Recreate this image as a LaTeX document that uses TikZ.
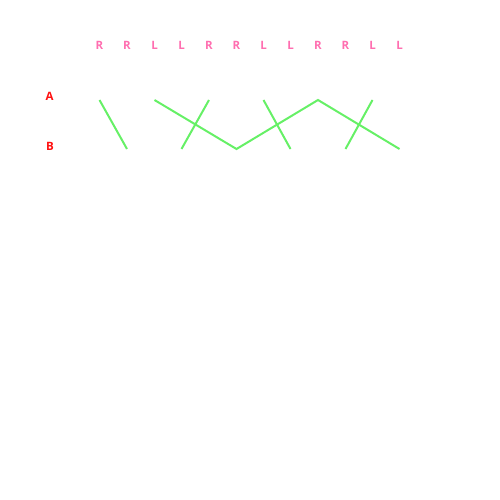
\documentclass[tikz,border=0pt]{standalone}
\usepackage{fontspec}
\setmainfont{Open Sans}
\usetikzlibrary{positioning}
\definecolor{rowred}{HTML}{FF1010}
\definecolor{stepink}{HTML}{FF6EB0}
\definecolor{strand}{HTML}{66F066}
\tikzset{
  rowlbl/.style ={font=\fontsize{11.5}{13}\selectfont\bfseries, text=rowred, inner sep=0pt},
  steplbl/.style={font=\fontsize{11.5}{13}\selectfont\bfseries, text=stepink, inner sep=0pt},
  wire/.style   ={draw=strand, line width=2pt},
}

\begin{document}
\begin{tikzpicture}[x=1pt,y=-1pt]
    \useasboundingbox (0,0) rectangle (500,500);

    % side labels
    \node[rowlbl] (rA) at (49.5,96) {A};
    \node[rowlbl] (rB) at (50,146) {B};

    % step labels and anchor points per column
    \foreach \i/\x/\s in {1/99.5/R,2/127/R,3/154.5/L,4/181.5/L,5/209/R,6/236.5/R,
                          7/263.5/L,8/290.5/L,9/318/R,10/345.5/R,11/372.5/L,12/399.5/L}{
      \node[steplbl] (s\i) at (\x,45.5) {\s};
      \coordinate (t\i) at (\x,100);
      \coordinate (b\i) at (\x,149);
    }

    \draw[wire] (t1) -- (b2);
    \draw[wire] (t3) -- (b6) -- (t9) -- (b12);
    \draw[wire] (t5) -- (b4);
    \draw[wire] (t7) -- (b8);
    \draw[wire] (t11) -- (b10);
  \end{tikzpicture}
\end{document}
